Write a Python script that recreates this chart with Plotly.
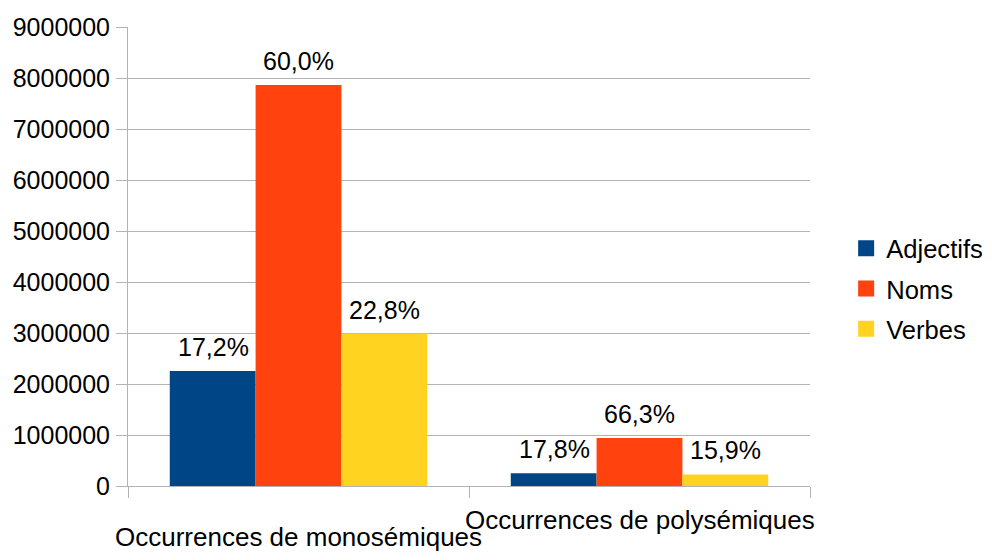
import plotly.graph_objects as go

categories = ["Occurrences de monosémiques", "Occurrences de polysémiques"]
series_names = ["Adjectifs", "Noms", "Verbes"]
adjectifs = [2255000, 252000]
noms = [7865000, 940000]
verbes = [2990000, 226000]
pct_labels = {
    "Adjectifs": ["17,2%", "17,8%"],
    "Noms": ["60,0%", "66,3%"],
    "Verbes": ["22,8%", "15,9%"],
}
colors = {"Adjectifs": "#004586", "Noms": "#ff420e", "Verbes": "#ffd320"}
values = {"Adjectifs": adjectifs, "Noms": noms, "Verbes": verbes}
y_ticks = list(range(0, 9000001, 1000000))

FONT = "Liberation Sans, Arial, sans-serif"
FS = 25
GRID = "#b3b3b3"

fig = go.Figure()
for name in series_names:
    fig.add_trace(go.Bar(
        x=categories, y=values[name], name=name,
        marker=dict(color=colors[name], line=dict(width=0)),
        showlegend=False,
    ))
    # legend proxy with bigger square
    fig.add_trace(go.Scatter(
        x=[None], y=[None], mode="markers", name=name,
        marker=dict(symbol="square", size=16, color=colors[name]),
        legendgroup=name,
    ))

# percentage labels above bars
offsets = {"Adjectifs": -85.5, "Noms": 0, "Verbes": 85.5}
for name in series_names:
    for cat, val, lab in zip(categories, values[name], pct_labels[name]):
        fig.add_annotation(
            x=cat, y=val, xref="x", yref="y", text=lab, showarrow=False,
            xshift=offsets[name], yanchor="bottom", yshift=8,
            font=dict(family=FONT, size=FS, color="black"),
        )

# staggered category labels
cat_shifts = [-51, -34]
for cat, sh in zip(categories, cat_shifts):
    fig.add_annotation(
        x=cat, y=0, xref="x", yref="paper", text=cat, showarrow=False,
        yanchor="middle", yshift=sh,
        font=dict(family=FONT, size=26, color="black"),
    )

fig.update_layout(
    width=976, height=544,
    margin=dict(l=120, r=174, t=19, b=66, autoexpand=False),
    paper_bgcolor="white", plot_bgcolor="white",
    barmode="group", bargap=0.245, bargroupgap=0,
    font=dict(family=FONT, size=FS, color="black"),
    legend=dict(
        x=1.053, y=0.43, xanchor="left", yanchor="middle",
        font=dict(family=FONT, size=25.6, color="black"),
        itemsizing="trace", tracegroupgap=4,
    ),
    xaxis=dict(
        type="category", range=[-0.5, 1.5], showticklabels=False,
        tickson="boundaries",
        ticks="outside", ticklen=11, tickcolor=GRID,
        showline=True, linecolor=GRID, linewidth=1, showgrid=False,
    ),
    yaxis=dict(
        range=[0, 9000000], tickvals=y_ticks, tickformat="d",
        ticks="outside", ticklen=11, tickcolor=GRID,
        showline=True, linecolor=GRID, linewidth=1,
        showgrid=True, gridcolor=GRID, gridwidth=1, zeroline=False,
        ticklabelstandoff=1, automargin=False,
    ),
)

fig.write_html("out.html")
